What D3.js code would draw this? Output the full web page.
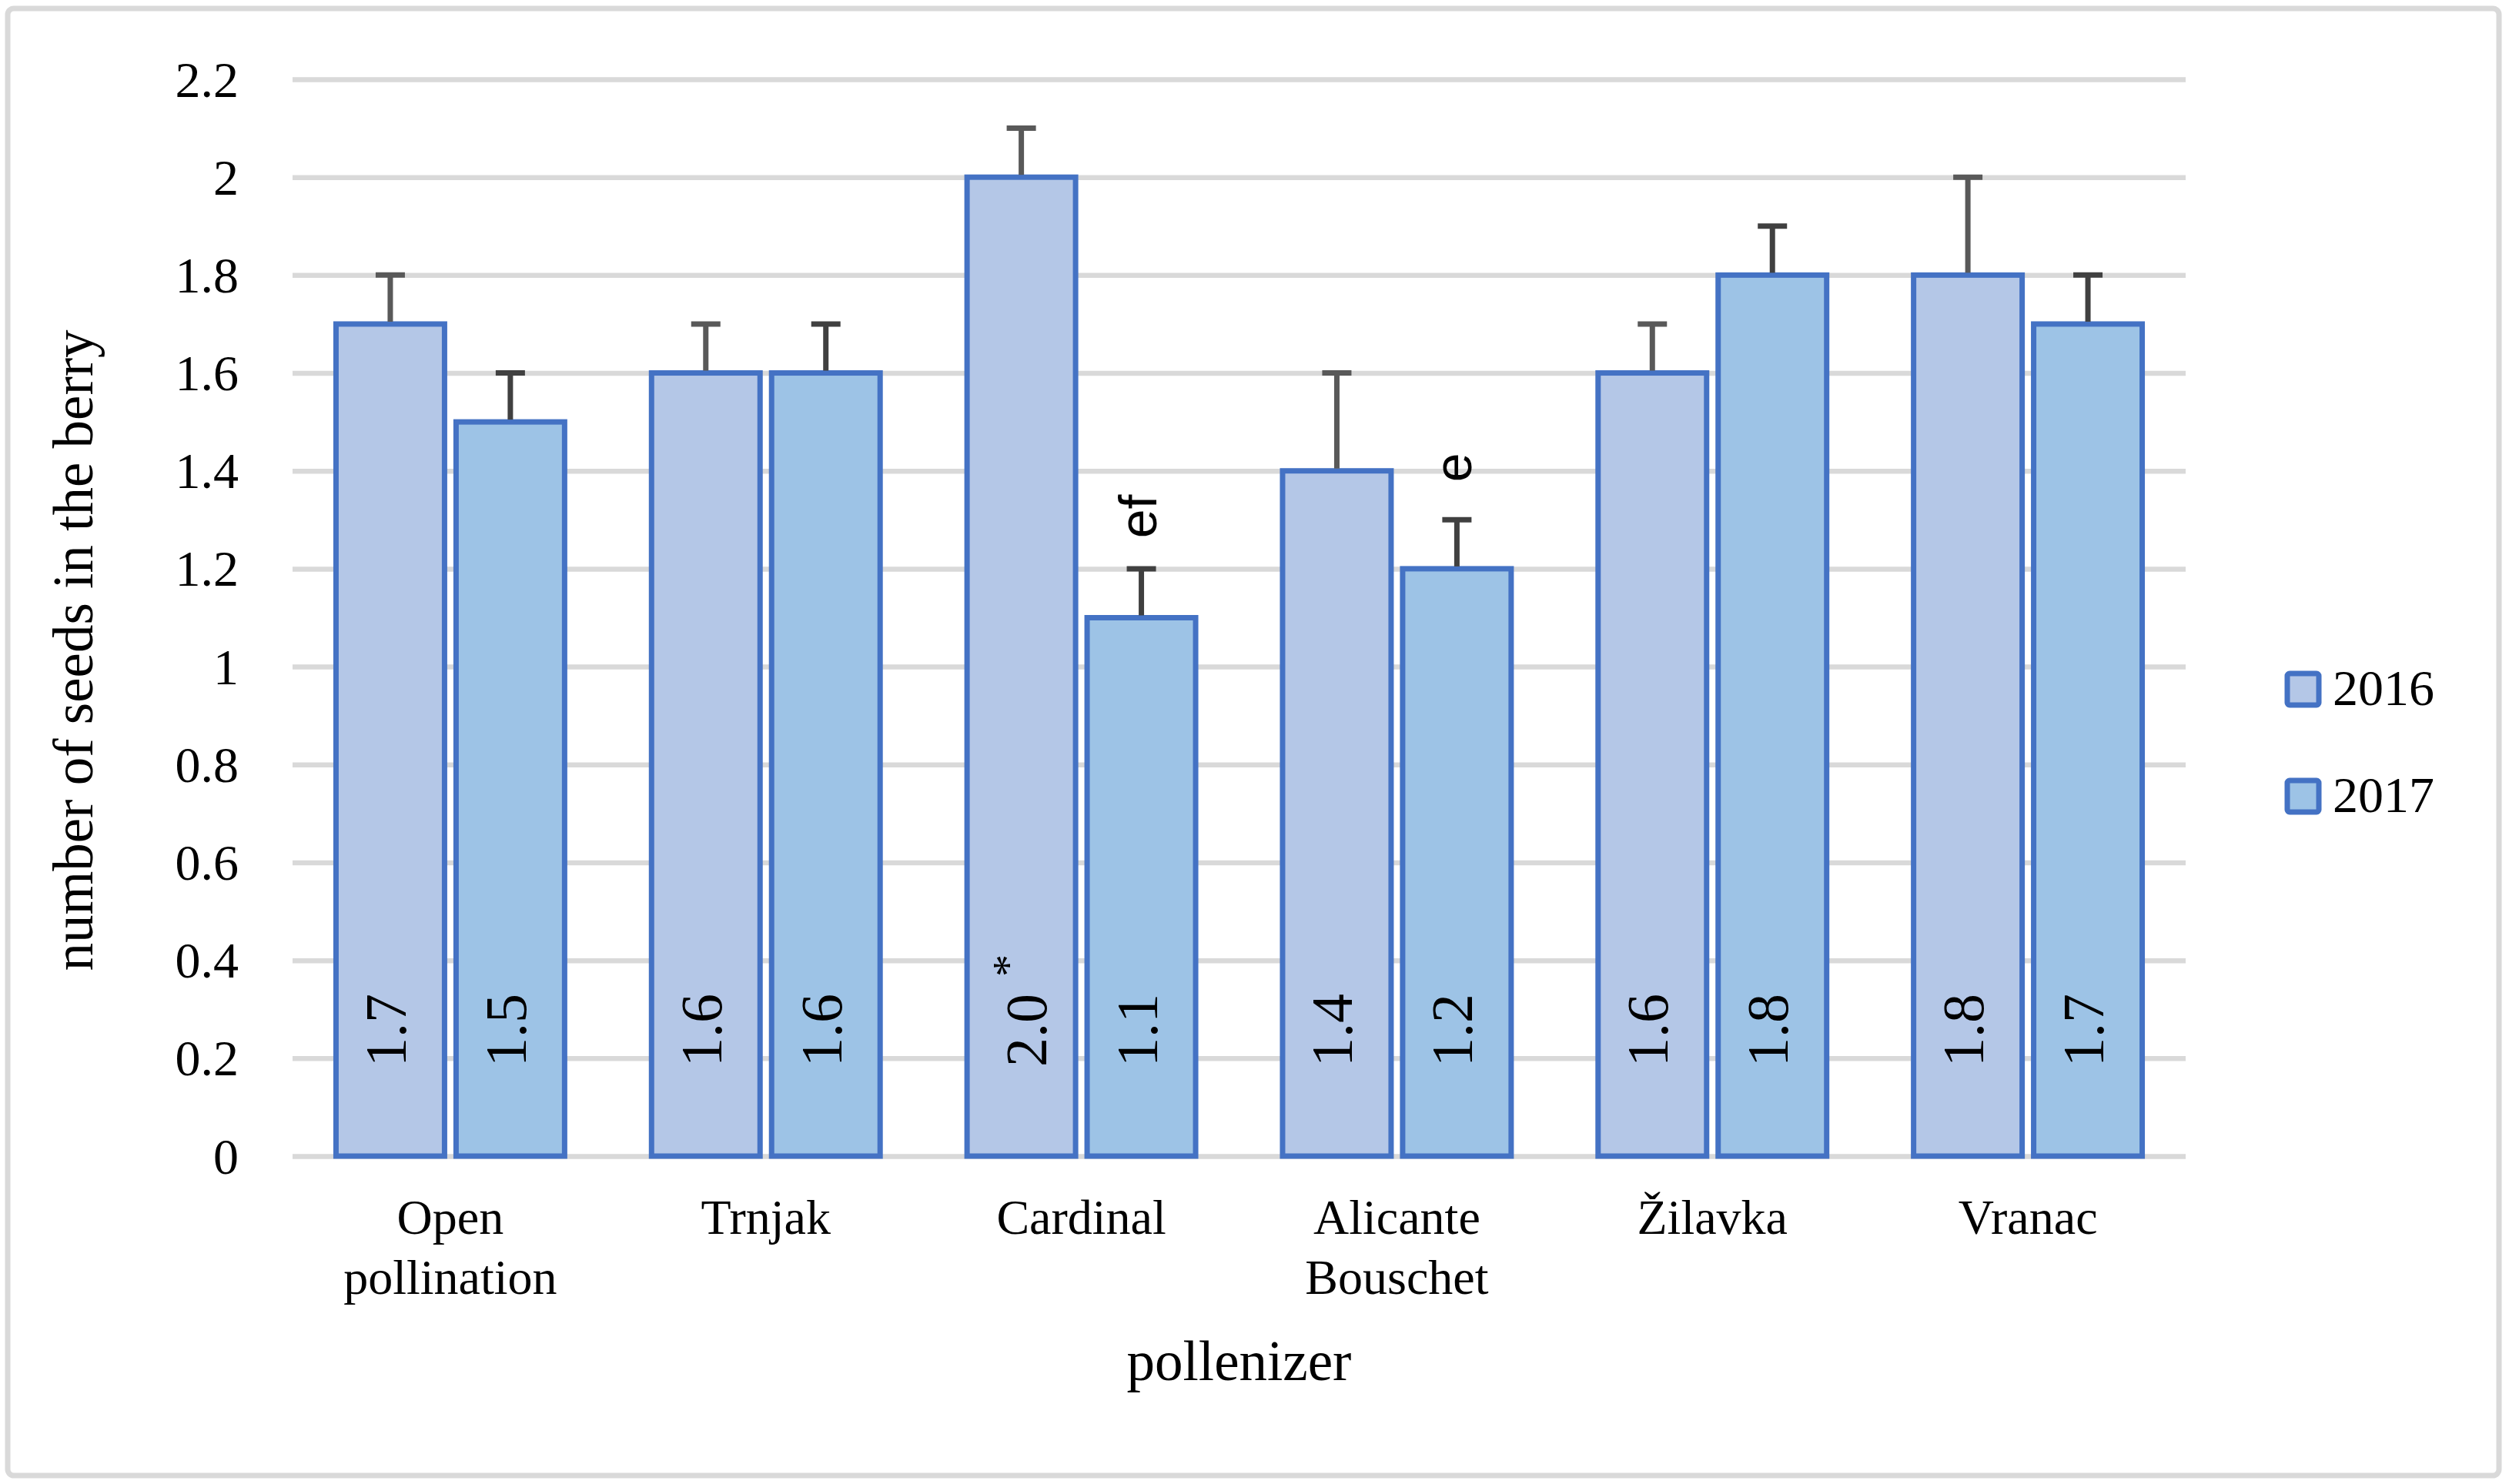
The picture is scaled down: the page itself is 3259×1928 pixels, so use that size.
<!DOCTYPE html>
<html>
<head>
<meta charset="utf-8">
<script src="https://cdn.jsdelivr.net/npm/d3@7"></script>
<style>
  html, body { margin: 0; padding: 0; background: #fff; }
  svg { display: block; }
  .serif { font-family: "Palatino Linotype", "Book Antiqua", "Liberation Serif", serif; fill: #000; }
  .sans { font-family: Arial, "Liberation Sans", sans-serif; fill: #000; }
</style>
</head>
<body>
<svg class="chart" width="3259" height="1928"></svg>
<script>
const categories = ["Open pollination", "Trnjak", "Cardinal", "Alicante Bouschet", "Žilavka", "Vranac"];
const seriesNames = ["2016", "2017"];
const values2016 = [1.7, 1.6, 2.0, 1.4, 1.6, 1.8];
const values2017 = [1.5, 1.6, 1.1, 1.2, 1.8, 1.7];
const errors2016 = [0.1, 0.1, 0.1, 0.2, 0.1, 0.2];
const errors2017 = [0.1, 0.1, 0.1, 0.1, 0.1, 0.1];
const marks2016 = ["", "", "*", "", "", ""];
const letters2017 = ["", "", "ef", "e", "", ""];
const yTicks = [0, 0.2, 0.4, 0.6, 0.8, 1, 1.2, 1.4, 1.6, 1.8, 2, 2.2];

const fills = { "2016": "#b4c7e7", "2017": "#9dc3e6" };
const errColors = { "2016": "#595959", "2017": "#404040" };
const barStroke = "#4472c4";

function createChart() {
  const svg = d3.select(".chart");
  const plot = { left: 380, right: 2839, top: 103, bottom: 1502 };

  // outer chart border
  svg.append("rect")
    .attr("x", 10).attr("y", 11)
    .attr("width", 3236).attr("height", 1906)
    .attr("rx", 8)
    .attr("fill", "#fff")
    .attr("stroke", "#d9d9d9")
    .attr("stroke-width", 7);

  const x0 = d3.scaleBand().domain(categories).range([plot.left, plot.right]);
  const x1 = d3.scaleBand().domain(seriesNames)
    .range([0, x0.bandwidth()])
    .paddingInner(0.096)
    .paddingOuter(0.362);
  const y = d3.scaleLinear().domain([0, 2.2]).range([plot.bottom, plot.top]);

  // gridlines + tick labels
  const yAxis = d3.axisLeft(y)
    .tickValues(yTicks)
    .tickSize(-(plot.right - plot.left))
    .tickFormat(d3.format("~g"));
  const gy = svg.append("g")
    .attr("transform", "translate(" + plot.left + ",0)")
    .call(yAxis);
  gy.select(".domain").remove();
  gy.selectAll(".tick line").attr("stroke", "#d9d9d9").attr("stroke-width", 6.5);
  gy.selectAll(".tick text")
    .attr("class", "serif")
    .attr("x", -70)
    .attr("dy", 22)
    .attr("font-size", 66)
    .attr("text-anchor", "end");

  const rows = [];
  categories.forEach((c, i) => {
    rows.push({ cat: c, s: "2016", v: values2016[i], e: errors2016[i], mark: marks2016[i], letter: "" });
    rows.push({ cat: c, s: "2017", v: values2017[i], e: errors2017[i], mark: "", letter: letters2017[i] });
  });
  const cx = (d) => x0(d.cat) + x1(d.s) + x1.bandwidth() / 2;

  // bars
  svg.append("g").selectAll("rect")
    .data(rows).enter().append("rect")
    .attr("x", (d) => x0(d.cat) + x1(d.s))
    .attr("y", (d) => y(d.v))
    .attr("width", x1.bandwidth())
    .attr("height", (d) => y(0) - y(d.v))
    .attr("fill", (d) => fills[d.s])
    .attr("stroke", barStroke)
    .attr("stroke-width", 7);

  // error bars (plus direction only)
  const eb = svg.append("g").selectAll("g").data(rows).enter().append("g")
    .attr("stroke", (d) => errColors[d.s])
    .attr("stroke-width", 7);
  eb.append("line")
    .attr("x1", cx).attr("x2", cx)
    .attr("y1", (d) => y(d.v) - 3)
    .attr("y2", (d) => y(d.v + d.e));
  eb.append("line")
    .attr("x1", (d) => cx(d) - 19).attr("x2", (d) => cx(d) + 19)
    .attr("y1", (d) => y(d.v + d.e))
    .attr("y2", (d) => y(d.v + d.e));

  // value labels, rotated, inside base
  const vl = svg.append("g").selectAll("text").data(rows).enter().append("text")
    .attr("class", "serif")
    .attr("font-size", 76)
    .attr("text-anchor", "start")
    .attr("transform", (d) => "translate(" + (cx(d) + (d.mark ? 32 : 20)) + "," + (y(0) - 116) + ") rotate(-90)");
  vl.append("tspan").text((d) => d3.format(".1f")(d.v));
  vl.filter((d) => d.mark).append("tspan")
    .attr("font-size", 58)
    .attr("dx", 22)
    .attr("dy", -30)
    .text((d) => d.mark);

  // significance letters above error bars
  svg.append("g").selectAll("text")
    .data(rows.filter((d) => d.letter)).enter().append("text")
    .attr("class", "sans")
    .attr("font-size", 68)
    .attr("text-anchor", "middle")
    .attr("transform", (d) => "translate(" + (cx(d) + 19) + "," + (y(d.v + d.e) - 68) + ") rotate(-90)")
    .text((d) => d.letter);

  // category labels
  const catG = svg.append("g").selectAll("text").data(categories).enter().append("text")
    .attr("class", "serif")
    .attr("font-size", 64)
    .attr("text-anchor", "middle")
    .attr("x", (d) => x0(d) + x0.bandwidth() / 2)
    .attr("y", 1603);
  catG.each(function (d) {
    const parts = d.split(" ");
    const t = d3.select(this);
    parts.forEach((p, i) => {
      t.append("tspan")
        .attr("x", x0(d) + x0.bandwidth() / 2)
        .attr("dy", i === 0 ? 0 : 78)
        .text(p);
    });
  });

  // axis titles
  svg.append("text")
    .attr("class", "serif")
    .attr("font-size", 73)
    .attr("text-anchor", "middle")
    .attr("x", (plot.left + plot.right) / 2)
    .attr("y", 1793)
    .text("pollenizer");
  svg.append("text")
    .attr("class", "serif")
    .attr("font-size", 73)
    .attr("text-anchor", "middle")
    .attr("transform", "translate(120,845) rotate(-90)")
    .text("number of seeds in the berry");

  // legend
  const legend = svg.append("g").attr("class", "legend");
  seriesNames.forEach((s, i) => {
    const item = legend.append("g").attr("transform", "translate(2971," + (875 + i * 139) + ")");
    item.append("rect")
      .attr("width", 41).attr("height", 41).attr("rx", 3)
      .attr("fill", fills[s])
      .attr("stroke", barStroke)
      .attr("stroke-width", 7);
    item.append("text")
      .attr("class", "serif")
      .attr("font-size", 66)
      .attr("x", 59)
      .attr("y", 41)
      .text(s);
  });
}

createChart();
</script>
</body>
</html>
